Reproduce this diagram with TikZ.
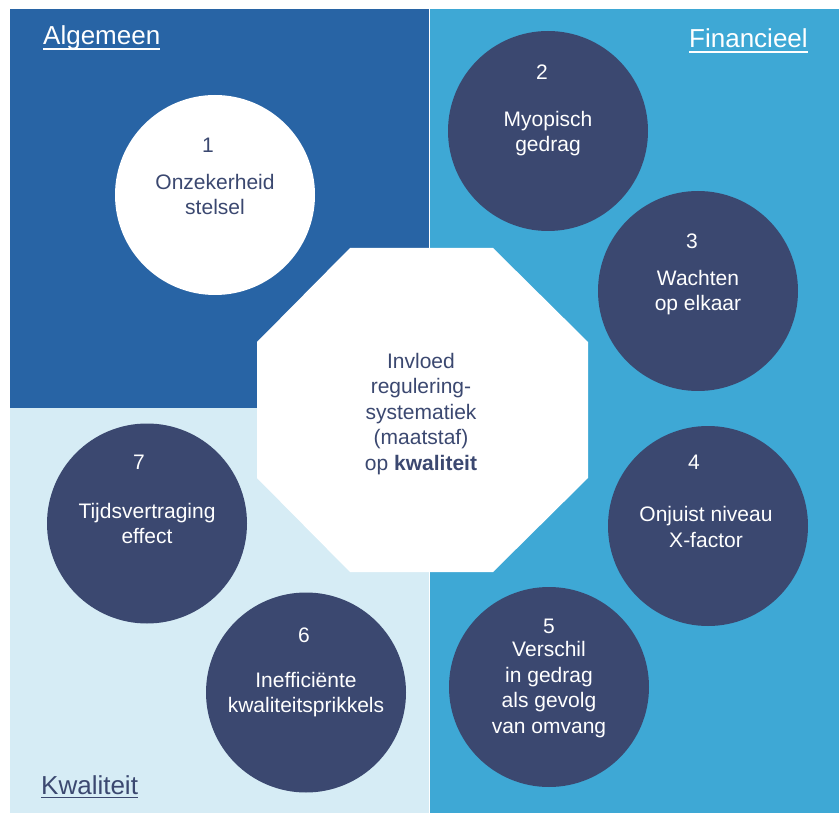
\documentclass[tikz,border=0pt]{standalone}
\usepackage{fontspec}
\setmainfont{Liberation Sans}
\definecolor{dkblue}{HTML}{2864A5}
\definecolor{ltblue}{HTML}{3EA8D5}
\definecolor{paleblue}{HTML}{D6ECF5}
\definecolor{navy}{HTML}{3B4870}
\begin{document}
\begin{tikzpicture}[x=1pt,y=1pt,
  circ/.style={circle, minimum size=200pt, inner sep=0pt},
  darkcirc/.style={circ, fill=navy},
  whitecirc/.style={circ, fill=white},
  txt/.style={anchor=base, inner sep=0pt, align=center, font=\fontsize{21}{25.5}\selectfont},
  wtxt/.style={txt, text=white},
  ntxt/.style={txt, text=navy},
  head/.style={anchor=base west, inner sep=0pt, font=\fontsize{26}{30}\selectfont},
  uline/.style={line width=1.4pt}
]
\useasboundingbox (0,0) rectangle (839,-813);
\fill[white] (0,0) rectangle (839,-813);
% quadrants
\fill[dkblue] (10,-9) rectangle (428.5,-407.5);
\fill[paleblue] (10,-407.5) rectangle (428.5,-813);
\fill[ltblue] (430,-9) rectangle (839,-813);
% octagon
\fill[white] (350,-248) -- (493,-248) -- (588,-342) -- (588,-478) -- (493,-572) -- (350,-572) -- (257,-478) -- (257,-342) -- cycle;
\node[ntxt] (oct) at (421,-470) {Invloed\\regulering-\\systematiek\\(maatstaf)\\op \textbf{kwaliteit}};
% headings
\node[head, text=white] (hA) at (43,-45) {Algemeen};
\draw[uline, white] ([yshift=-4pt]hA.base west) -- ([yshift=-4pt]hA.base east);
\node[head, text=white] (hF) at (689,-48) {Financieel};
\draw[uline, white] ([yshift=-4pt]hF.base west) -- ([yshift=-4pt]hF.base east);
\node[head, text=navy] (hK) at (41,-794) {Kwaliteit};
\draw[uline, navy] ([yshift=-3.5pt]hK.base west) -- ([yshift=-3.5pt]hK.base east);
% circles
\node[whitecirc] (c1) at (215,-195) {};
\node[darkcirc] (c2) at (548,-131) {};
\node[darkcirc] (c3) at (698,-291) {};
\node[darkcirc] (c4) at (708,-526) {};
\node[darkcirc] (c5) at (549,-687) {};
\node[darkcirc] (c6) at (306,-692.5) {};
\node[darkcirc] (c7) at (147,-523.5) {};
% circle texts
\node[ntxt] (n1) at ([xshift=-7pt,yshift=42pt]c1.center) {1};
\node[ntxt] (t1) at ([yshift=-20pt]c1.center) {Onzekerheid\\stelsel};
\node[wtxt] (n2) at ([xshift=-6pt,yshift=51pt]c2.center) {2};
\node[wtxt] (t2) at ([yshift=-21pt]c2.center) {Myopisch\\gedrag};
\node[wtxt] (n3) at ([xshift=-6pt,yshift=42pt]c3.center) {3};
\node[wtxt] (t3) at ([yshift=-20pt]c3.center) {Wachten\\op elkaar};
\node[wtxt] (n4) at ([xshift=-14pt,yshift=57pt]c4.center) {4};
\node[wtxt] (t4) at ([xshift=-2pt,yshift=-21pt]c4.center) {Onjuist niveau\\X-factor};
\node[wtxt] (n5) at ([yshift=54pt]c5.center) {5};
\node[wtxt] (t5) at ([yshift=-46pt]c5.center) {Verschil\\in gedrag\\als gevolg\\van omvang};
\node[wtxt] (n6) at ([xshift=-2pt,yshift=50pt]c6.center) {6};
\node[wtxt] (t6) at ([yshift=-20pt]c6.center) {Inefficiënte\\kwaliteitsprikkels};
\node[wtxt] (n7) at ([xshift=-8pt,yshift=54pt]c7.center) {7};
\node[wtxt] (t7) at ([yshift=-20pt]c7.center) {Tijdsvertraging\\effect};
\end{tikzpicture}
\end{document}
